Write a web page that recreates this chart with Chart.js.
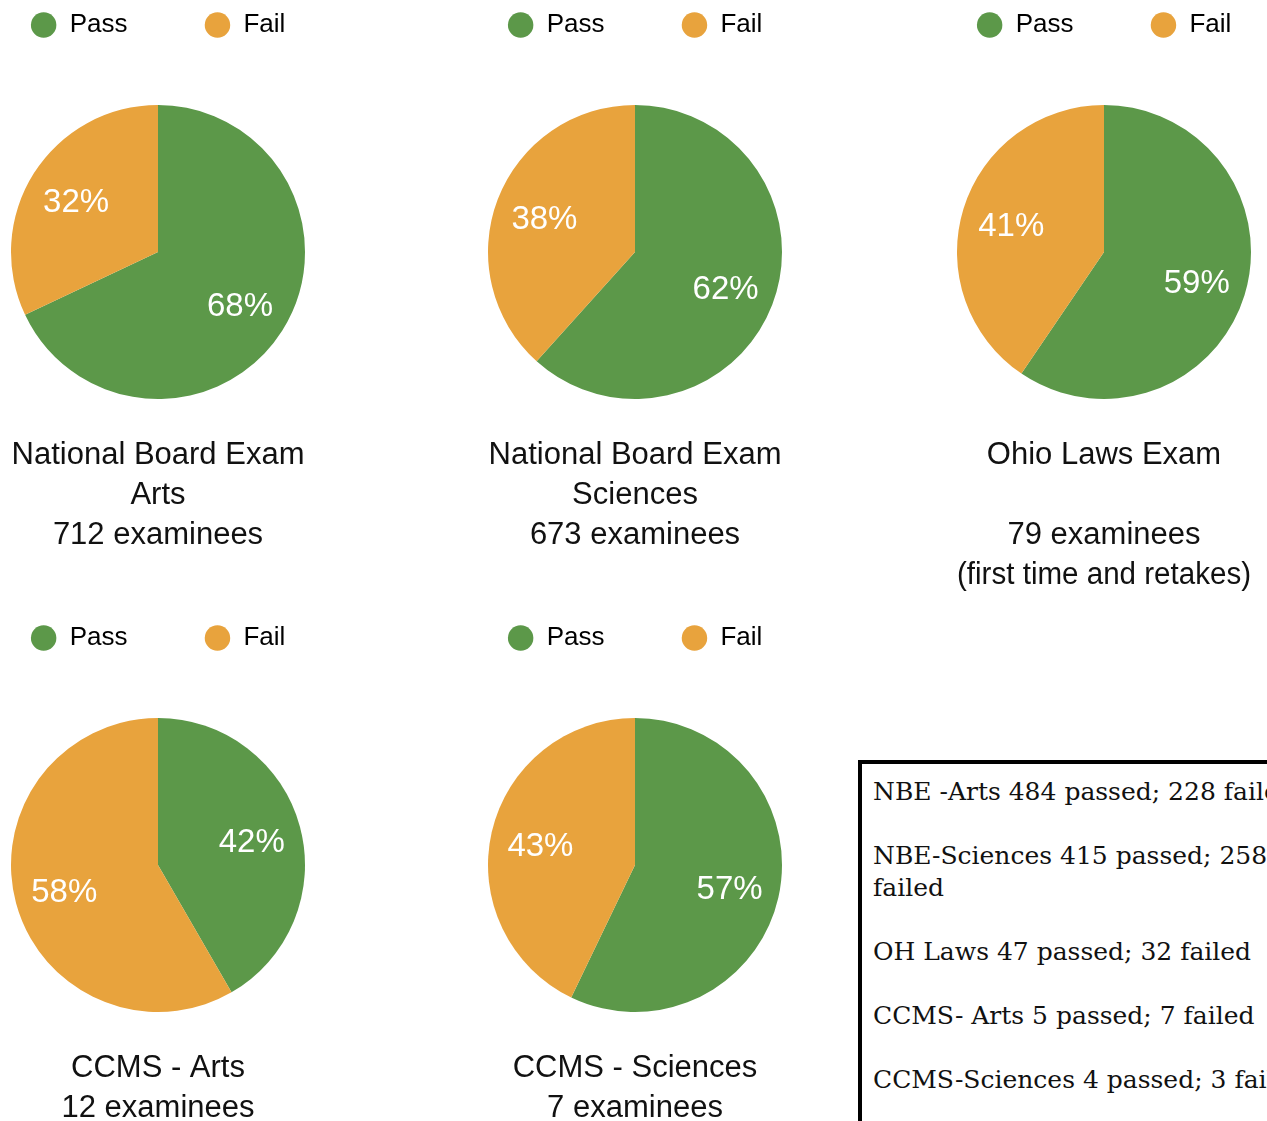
<!DOCTYPE html>
<html>
<head>
<meta charset="utf-8">
<script src="https://cdn.jsdelivr.net/npm/chart.js@4/dist/chart.umd.min.js"></script>
<style>
  html, body { margin: 0; padding: 0; background: #fff; }
  body { width: 1267px; height: 1121px; position: relative; overflow: hidden; }
  .cell { position: absolute; width: 316px; height: 613px; }
  .note {
    position: absolute; left: 858px; top: 760px; width: 470px; height: 420px;
    border: 4px solid #000; padding: 12px 11px; box-sizing: border-box;
    font-family: "DejaVu Serif", "Liberation Serif", serif; font-size: 25px; line-height: 32px; color: #111;
  }
  .note p { margin: 0 0 32px 0; }
</style>
</head>
<body>
<div class="cell" style="left:0;top:0"><canvas id="c0"></canvas></div>
<div class="cell" style="left:477px;top:0"><canvas id="c1"></canvas></div>
<div class="cell" style="left:946px;top:0"><canvas id="c2"></canvas></div>
<div class="cell" style="left:0;top:613px"><canvas id="c3"></canvas></div>
<div class="cell" style="left:477px;top:613px"><canvas id="c4"></canvas></div>
<div class="note">
  <p>NBE -Arts 484 passed; 228 failed</p>
  <p>NBE-Sciences 415 passed; 258 failed</p>
  <p>OH Laws 47 passed; 32 failed</p>
  <p>CCMS- Arts 5 passed; 7 failed</p>
  <p>CCMS-Sciences 4 passed; 3 failed</p>
</div>
<script>
const categories = ['Pass', 'Fail'];
const passed = [484, 415, 47, 5, 4];
const failed = [228, 258, 32, 7, 3];
const titles = [
  ['National Board Exam', 'Arts', '712 examinees', ''],
  ['National Board Exam', 'Sciences', '673 examinees', ''],
  ['Ohio Laws Exam', '', '79 examinees', '(first time and retakes)'],
  ['CCMS - Arts', '12 examinees', '', ''],
  ['CCMS - Sciences', '7 examinees', '', '']
];
const colors = ['#5c9849', '#e8a33d'];
const sans = '"Helvetica Neue", "Liberation Sans", Arial, sans-serif';

// percent labels inside the slices
const sliceLabels = {
  id: 'sliceLabels',
  afterDatasetsDraw(chart) {
    const ctx = chart.ctx;
    const data = chart.data.datasets[0].data;
    const total = data.reduce((a, b) => a + b, 0);
    ctx.save();
    ctx.fillStyle = '#fff';
    ctx.font = '33px ' + sans;
    ctx.textAlign = 'center';
    ctx.textBaseline = 'middle';
    chart.getDatasetMeta(0).data.forEach((arc, i) => {
      const mid = (arc.startAngle + arc.endAngle) / 2;
      const r = arc.outerRadius * 0.66;
      const pct = Math.round(data[i] / total * 100) + '%';
      ctx.fillText(pct, arc.x + Math.cos(mid) * r, arc.y + Math.sin(mid) * r + 3);
    });
    ctx.restore();
  }
};

// extra room below the legend
const legendGap = {
  id: 'legendGap',
  beforeInit(chart) {
    const fit = chart.legend.fit;
    chart.legend.fit = function () {
      fit.bind(chart.legend)();
      this.height += 57;
    };
  }
};

titles.forEach((t, i) => {
  new Chart(document.getElementById('c' + i), {
    type: 'pie',
    data: {
      labels: categories,
      datasets: [{
        data: [passed[i], failed[i]],
        backgroundColor: colors,
        borderWidth: 0,
        hoverOffset: 0
      }]
    },
    options: {
      responsive: true,
      maintainAspectRatio: false,
      animation: false,
      layout: { padding: { left: 11, right: 11 } },
      plugins: {
        tooltip: { enabled: false },
        legend: {
          position: 'top',
          labels: {
            usePointStyle: true,
            pointStyle: 'circle',
            boxHeight: 18,
            padding: 12,
            color: '#000',
            font: { family: sans, size: 26 },
            generateLabels(chart) {
              const items = Chart.overrides.pie.plugins.legend.labels.generateLabels(chart);
              items[0].text += '\u00a0'.repeat(9);
              return items;
            }
          }
        },
        title: {
          display: true,
          position: 'bottom',
          text: t,
          color: '#111',
          font: { family: sans, size: 31, weight: 'normal', lineHeight: '40px' },
          padding: { top: 36, bottom: 18 }
        }
      }
    },
    plugins: [sliceLabels, legendGap]
  });
});
</script>
</body>
</html>
